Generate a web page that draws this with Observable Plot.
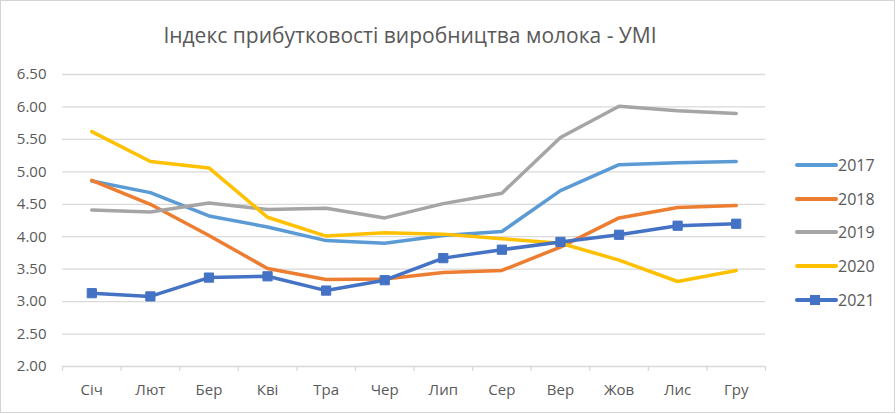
<!DOCTYPE html>
<html>
<head>
<meta charset="utf-8">
<script src="https://cdn.jsdelivr.net/npm/d3@7"></script>
<script src="https://cdn.jsdelivr.net/npm/@observablehq/plot@0.6"></script>
<style>
  html, body { margin: 0; padding: 0; background: #fff; }
  #wrap { position: relative; width: 896px; height: 414px; overflow: hidden; font-family: "Open Sans", sans-serif; }
  #border { position: absolute; left: 0; top: 0; width: 893px; height: 411px; border: 1.5px solid #d4d4d4; pointer-events: none; }
  #title { position: absolute; left: 0; top: 21px; width: 820px; text-align: center; font-size: 21px; line-height: 28px; color: #595959; white-space: nowrap; }
  #plot { position: absolute; left: 0; top: 0; }
  #legend { position: absolute; left: 795px; top: 0; }
  .item { position: absolute; left: 0; height: 20px; display: flex; align-items: center; white-space: nowrap; font-size: 16px; color: #595959; }
  .item svg { display: block; }
</style>
</head>
<body>
<div id="wrap">
  <div id="plot"></div>
  <div id="title">Індекс прибутковості виробництва молока - УМІ</div>
  <div id="legend"></div>
  <div id="border"></div>
</div>
<script>
const months = ["Січ","Лют","Бер","Кві","Тра","Чер","Лип","Сер","Вер","Жов","Лис","Гру"];
const years = ["2017","2018","2019","2020","2021"];
const v2017 = [4.86, 4.68, 4.32, 4.15, 3.94, 3.90, 4.02, 4.08, 4.71, 5.11, 5.14, 5.16];
const v2018 = [4.87, 4.50, 4.02, 3.51, 3.34, 3.35, 3.45, 3.48, 3.84, 4.29, 4.45, 4.48];
const v2019 = [4.41, 4.38, 4.52, 4.42, 4.44, 4.29, 4.51, 4.67, 5.53, 6.01, 5.94, 5.90];
const v2020 = [5.62, 5.16, 5.06, 4.30, 4.01, 4.06, 4.04, 3.97, 3.90, 3.64, 3.31, 3.48];
const v2021 = [3.13, 3.08, 3.37, 3.39, 3.17, 3.33, 3.67, 3.80, 3.92, 4.03, 4.17, 4.20];
const yTicks = [2.0, 2.5, 3.0, 3.5, 4.0, 4.5, 5.0, 5.5, 6.0, 6.5];
const colors = ["#5B9BD5", "#ED7D31", "#A5A5A5", "#FFC000", "#4472C4"];
const markerYear = "2021";

const seriesList = [v2017, v2018, v2019, v2020, v2021];
const data = years.flatMap((yr, k) => seriesList[k].map((v, i) => ({year: yr, i, v})));

const chart = Plot.plot({
  width: 896,
  height: 414,
  marginLeft: 62,
  marginRight: 131,
  marginTop: 74,
  marginBottom: 48,
  x: {type: "linear", domain: [-0.5, months.length - 0.5]},
  y: {domain: [yTicks[0], yTicks[yTicks.length - 1]]},
  color: {domain: years, range: colors},
  style: {fontFamily: "Open Sans, sans-serif", fontSize: "15px", color: "#595959", background: "transparent"},
  marks: [
    Plot.ruleY(yTicks, {stroke: "#d9d9d9", strokeWidth: 1.3}),
    Plot.axisY({ticks: yTicks, tickFormat: d3.format(".2f"), tickSize: 0, tickPadding: 16, label: null, fill: "#595959", fontSize: 15}),
    Plot.axisX({ticks: d3.range(months.length + 1).map(i => i - 0.5), tickFormat: () => "", tickSize: 5, stroke: "#d9d9d9", strokeWidth: 1.3, label: null}),
    Plot.axisX({ticks: d3.range(months.length), tickFormat: i => months[i], tickSize: 0, tickPadding: 18, label: null, fill: "#595959", fontSize: 15}),
    Plot.line(data, {x: "i", y: "v", z: "year", stroke: "year", strokeWidth: 3.5, strokeLinejoin: "round", strokeLinecap: "round"}),
    Plot.dot(data.filter(d => d.year === markerYear), {x: "i", y: "v", symbol: "square", r: 5.2, fill: colors[4], stroke: colors[4], strokeWidth: 1})
  ]
});
document.getElementById("plot").appendChild(chart);

// legend
const legend = document.getElementById("legend");
const legendTops = [165, 198.7, 232.4, 266.1, 299.8];
years.forEach((yr, k) => {
  const item = document.createElement("div");
  item.className = "item";
  item.style.top = (legendTops[k] - 10) + "px";
  const marker = yr === markerYear ? `<rect x="15" y="1" width="10" height="10" fill="${colors[k]}"/>` : "";
  item.innerHTML = `<svg width="43" height="12"><line x1="2" y1="6" x2="41" y2="6" stroke="${colors[k]}" stroke-width="4" stroke-linecap="round"/>${marker}</svg><span>${yr}</span>`;
  legend.appendChild(item);
});
</script>
</body>
</html>
